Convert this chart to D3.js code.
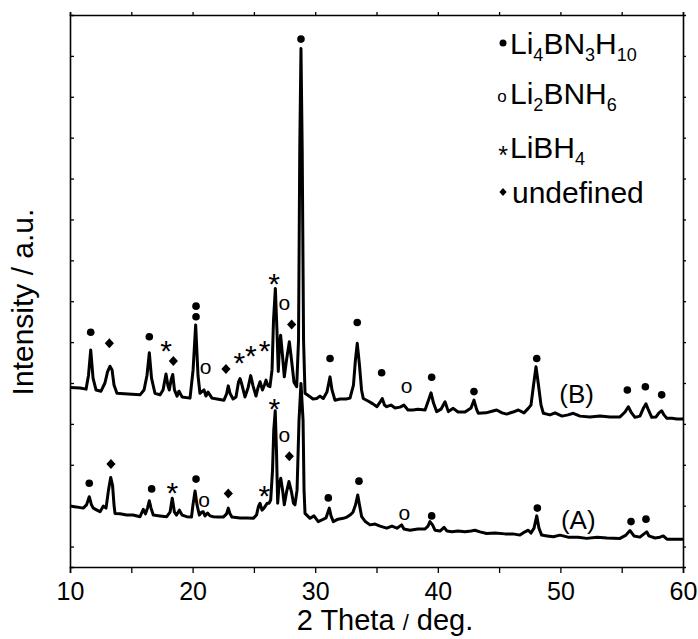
<!DOCTYPE html>
<html>
<head>
<meta charset="utf-8">
<script src="https://cdn.jsdelivr.net/npm/d3@7"></script>
<style>
  body { margin: 0; background: #fff; }
  text { font-family: Arial, "Liberation Sans", sans-serif; fill: #000; }
</style>
</head>
<body>
<div id="grafica"></div>
<script>
traceB = [
  [10.00,439],[10.82,438],[11.31,435],[11.51,469],[11.69,531],[11.88,462],[12.12,433],[12.53,430],
  [12.85,450],[13.06,477],[13.26,491],[13.43,482],[13.59,445],[13.83,425],[14.73,423],[15.71,421],
  [16.04,433],[16.28,469],[16.47,524],[16.65,462],[16.93,425],[17.34,421],[17.59,433],[17.83,472],
  [17.99,443],[18.10,433],[18.24,457],[18.38,471],[18.52,433],[18.73,418],[18.89,430],[19.14,416],
  [19.79,413],[20.04,482],[20.25,592],[20.44,469],[20.60,425],[20.93,433],[21.09,418],[21.26,428],
  [21.58,413],[21.99,411],[22.56,408],[22.77,423],[22.91,443],[23.05,425],[23.30,411],[23.54,416],
  [23.74,452],[23.87,461],[24.03,445],[24.27,416],[24.52,438],[24.74,468],[24.93,443],[25.17,418],
  [25.33,438],[25.50,453],[25.70,433],[25.86,445],[25.99,457],[26.15,443],[26.31,441],[26.48,482],
  [26.60,604],[26.75,681],[26.88,579],[26.99,478],[27.09,543],[27.18,567],[27.33,518],[27.48,465],
  [27.66,506],[27.89,551],[28.07,506],[28.27,452],[28.49,441],[28.64,555],[28.74,1020],[28.84,1268],
  [28.94,1020],[29.05,555],[29.17,425],[29.49,418],[29.82,411],[30.12,412],[30.39,418],[30.66,412],
  [30.96,428],[31.21,465],[31.37,433],[31.61,408],[32.02,411],[32.51,411],[32.84,413],[33.12,445],
  [33.28,506],[33.43,547],[33.61,494],[33.78,433],[33.92,412],[34.31,406],[34.71,399],[35.04,392],
  [35.29,403],[35.47,412],[35.65,396],[35.83,392],[36.18,396],[36.51,389],[36.92,391],[37.24,396],
  [37.57,384],[37.98,384],[38.38,386],[38.96,384],[39.24,408],[39.45,426],[39.65,401],[39.91,380],
  [40.26,386],[40.59,404],[40.86,380],[41.26,388],[41.65,379],[42.22,379],[42.71,389],[42.95,408],
  [43.16,386],[43.30,376],[43.93,377],[44.42,381],[44.80,384],[45.24,377],[45.62,374],[46.13,379],
  [46.57,384],[47.03,377],[47.38,388],[47.60,396],[47.81,445],[48.01,490],[48.21,445],[48.42,396],
  [48.61,376],[49.15,372],[49.56,377],[50.13,369],[50.62,372],[51.05,376],[51.60,369],[52.41,367],
  [53.23,369],[54.05,367],[54.86,367],[55.27,379],[55.54,392],[55.76,379],[56.08,366],[56.49,369],
  [56.78,389],[56.98,399],[57.18,384],[57.45,366],[57.80,367],[58.04,377],[58.26,382],[58.45,372],
  [58.67,364],[59.10,364],[59.51,362],[60.00,362]
]

traceA = [
  [10.00,149],[10.49,147],[11.08,144],[11.35,152],[11.57,172],[11.75,152],[11.90,144],[12.20,139],
  [12.45,135],[12.72,149],[12.94,144],[13.14,188],[13.32,219],[13.47,200],[13.59,152],[13.67,131],
  [14.08,130],[14.62,127],[15.14,127],[15.71,123],[15.98,141],[16.16,130],[16.32,144],[16.47,162],
  [16.61,144],[16.79,127],[17.34,125],[17.89,123],[18.16,134],[18.34,168],[18.52,134],[18.69,127],
  [18.92,139],[19.14,127],[19.52,123],[19.91,122],[20.03,152],[20.20,186],[20.36,152],[20.55,127],
  [20.73,134],[20.87,135],[21.01,125],[21.22,132],[21.42,125],[21.69,123],[22.07,122],[22.50,122],
  [22.77,130],[22.91,144],[23.05,130],[23.21,122],[23.87,120],[24.44,120],[24.95,119],[25.21,127],
  [25.38,149],[25.50,156],[25.66,139],[25.82,144],[26.09,156],[26.23,156],[26.37,164],[26.52,237],
  [26.62,335],[26.74,382],[26.84,286],[26.94,156],[27.05,200],[27.19,217],[27.34,188],[27.48,152],
  [27.66,183],[27.86,209],[28.07,183],[28.23,156],[28.35,152],[28.52,188],[28.68,359],[28.84,449],
  [29.01,359],[29.09,188],[29.17,131],[29.58,119],[29.90,125],[30.25,111],[30.55,115],[30.88,120],
  [31.15,144],[31.29,125],[31.48,111],[31.86,117],[32.29,119],[32.59,122],[32.84,127],[33.08,134],
  [33.29,152],[33.47,176],[33.61,152],[33.79,123],[34.06,112],[34.47,103],[34.88,105],[35.29,100],
  [35.83,95],[36.26,100],[36.67,95],[37.05,103],[37.24,93],[37.73,90],[38.38,93],[38.96,93],
  [39.20,100],[39.36,111],[39.57,103],[39.77,90],[40.18,88],[40.51,97],[40.75,88],[41.16,86],
  [41.65,88],[42.22,86],[42.71,88],[43.03,90],[43.44,86],[43.99,82],[44.67,83],[45.48,81],
  [46.13,81],[46.70,78],[47.11,86],[47.38,90],[47.60,83],[47.85,95],[48.07,125],[48.25,95],
  [48.47,78],[48.91,76],[49.42,74],[49.97,78],[50.62,73],[51.44,73],[52.15,70],[52.99,73],
  [53.80,71],[54.86,70],[55.35,78],[55.68,89],[56.00,76],[56.49,73],[56.82,81],[57.04,86],
  [57.22,76],[57.71,71],[58.12,73],[58.39,76],[58.69,68],[59.33,68],[60.00,68]
]

// marcas de fases sobre los picos: [2 theta, altura]
li4Marks = [
  [11.69,574],[16.47,563],[20.28,638],[20.28,612],[28.84,1291],[31.21,510],[33.43,598],[35.42,475],
  [39.50,464],[42.95,429],[48.07,510],[55.46,433],[56.93,441],[58.26,421],
  [11.57,205],[16.66,191],[20.28,215],[31.07,169],[33.57,210],[39.50,125],[48.12,144],[55.76,111],[56.98,117]
]
li2Marks = [[21.07,486],[27.48,642],[37.46,439],[20.93,160],[27.48,319],[37.27,130]]
libh4Marks = [[17.83,547],[23.81,518],[24.76,535],[25.88,547],[26.64,711],[18.34,198],[25.85,192],[26.66,404]]
undefMarks = [[13.21,547],[18.43,504],[22.72,484],[28.08,593],[13.34,252],[22.91,180],[27.89,271]]

sampleLabels = [['(B)', 51.33, 425], ['(A)', 51.46, 117]]

xTicks = [10, 15, 20, 25, 30, 35, 40, 45, 50, 55, 60]
yTicks = [50, 150, 250, 350, 450, 550, 650, 750, 850, 950, 1050, 1150, 1250]

ancho_total = 698
alto_total  = 639
margin = { left: 70, right: 15, top: 15, bottom: 72 }

ancho = ancho_total - margin.left - margin.right
alto  = alto_total - margin.top - margin.bottom

svg = d3
        .select('#grafica')
        .append('svg')
        .attr('width', ancho_total)
        .attr('height', alto_total)

g = svg
      .append('g')
      .attr('transform', 'translate(' + margin.left + ',' + margin.top + ')')

x = d3.scaleLinear().domain([10, 60]).range([0, ancho])
y = d3.scaleLinear().domain([0, 1350]).range([alto, 0])

// ejes
xAxisCall = d3.axisBottom(x)
              .tickValues(xTicks)
              .tickSize(6)
              .tickPadding(9)
              .tickFormat((d) => d % 10 == 0 ? d : '')
xGroup = g.append('g')
          .attr('transform', `translate(0, ${alto})`)
          .call(xAxisCall)

topGroup = g.append('g')
            .call(d3.axisTop(x).tickValues(xTicks).tickSize(3).tickFormat(''))

yGroup = g.append('g')
          .call(d3.axisLeft(y).tickValues(yTicks).tickSize(-4).tickFormat(''))

rightGroup = g.append('g')
              .attr('transform', `translate(${ancho}, 0)`)
              .call(d3.axisRight(y).tickValues(yTicks).tickSize(3).tickFormat(''))

g.selectAll('.domain')
  .attr('stroke', '#000')
  .attr('stroke-width', 1.6)
g.selectAll('.tick line')
  .attr('stroke', '#000')
  .attr('stroke-width', 1.3)
xGroup.selectAll('text')
  .attr('font-size', '25px')
  .attr('font-family', 'Arial, "Liberation Sans", sans-serif')
  .attr('fill', '#000')

// curvas
linea = d3.line()
          .x((d) => x(d[0]))
          .y((d) => y(d[1]))

g.selectAll('path.curva')
  .data([traceA, traceB])
  .enter()
  .append('path')
    .attr('class', 'curva')
    .attr('d', linea)
    .attr('fill', 'none')
    .attr('stroke', '#000')
    .attr('stroke-width', 3)
    .attr('stroke-linejoin', 'round')

// marcas
g.selectAll('circle.li4')
  .data(li4Marks)
  .enter()
  .append('circle')
    .attr('class', 'li4')
    .attr('cx', (d) => x(d[0]))
    .attr('cy', (d) => y(d[1]))
    .attr('r', 3.8)
    .attr('fill', '#000')

diamante = 'M0,-5L4.6,0L0,5L-4.6,0Z'

g.selectAll('path.undef')
  .data(undefMarks)
  .enter()
  .append('path')
    .attr('class', 'undef')
    .attr('d', diamante)
    .attr('transform', (d) => `translate(${x(d[0])},${y(d[1])})`)
    .attr('fill', '#000')

g.selectAll('text.li2')
  .data(li2Marks)
  .enter()
  .append('text')
    .attr('class', 'li2')
    .attr('x', (d) => x(d[0]))
    .attr('y', (d) => y(d[1]))
    .attr('dy', '0.27em')
    .attr('text-anchor', 'middle')
    .attr('font-size', '21px')
    .text('o')

g.selectAll('text.libh4')
  .data(libh4Marks)
  .enter()
  .append('text')
    .attr('class', 'libh4')
    .attr('x', (d) => x(d[0]))
    .attr('y', (d) => y(d[1]))
    .attr('dy', '0.58em')
    .attr('text-anchor', 'middle')
    .attr('font-size', '30px')
    .text('*')

g.selectAll('text.muestra')
  .data(sampleLabels)
  .enter()
  .append('text')
    .attr('class', 'muestra')
    .attr('x', (d) => x(d[1]))
    .attr('y', (d) => y(d[2]))
    .attr('dy', '0.36em')
    .attr('text-anchor', 'middle')
    .attr('font-size', '26px')
    .text((d) => d[0])

// leyenda
leyenda = svg.append('g')

function formula(yBase, partes) {
  txt = leyenda.append('text')
          .attr('x', 510)
          .attr('y', yBase)
          .attr('font-size', '30px')
  partes.forEach((p, i) => {
    if (p[1]) {
      txt.append('tspan').attr('font-size', '18px').attr('dy', 7).text(p[0])
    } else {
      txt.append('tspan').attr('dy', i == 0 ? 0 : -7).text(p[0])
    }
  })
}

leyenda.append('circle').attr('cx', 503).attr('cy', 43).attr('r', 3.5).attr('fill', '#000')
formula(54, [['Li'], ['4', 1], ['BN'], ['3', 1], ['H'], ['10', 1]])

leyenda.append('text').attr('x', 502).attr('y', 97).attr('dy', '0.27em')
  .attr('text-anchor', 'middle').attr('font-size', '17px').text('o')
formula(104, [['Li'], ['2', 1], ['BNH'], ['6', 1]])

leyenda.append('text').attr('x', 503).attr('y', 149).attr('dy', '0.58em')
  .attr('text-anchor', 'middle').attr('font-size', '25px').text('*')
formula(158, [['LiBH'], ['4', 1]])

leyenda.append('path').attr('d', 'M0,-4L3.6,0L0,4L-3.6,0Z')
  .attr('transform', 'translate(503,192)').attr('fill', '#000')
leyenda.append('text').attr('x', 512).attr('y', 203).attr('font-size', '30px').text('undefined')

// titulos de los ejes
svg.append('text')
    .attr('x', 385)
    .attr('y', 630)
    .attr('text-anchor', 'middle')
    .attr('font-size', '29px')
    .call((t) => {
      t.append('tspan').text('2 Theta ')
      t.append('tspan').attr('font-size', '22px').text('/')
      t.append('tspan').text(' deg.')
    })

svg.append('text')
    .attr('transform', 'translate(33, 302) rotate(-90)')
    .attr('text-anchor', 'middle')
    .attr('font-size', '30px')
    .text('Intensity / a.u.')
</script>
</body>
</html>
